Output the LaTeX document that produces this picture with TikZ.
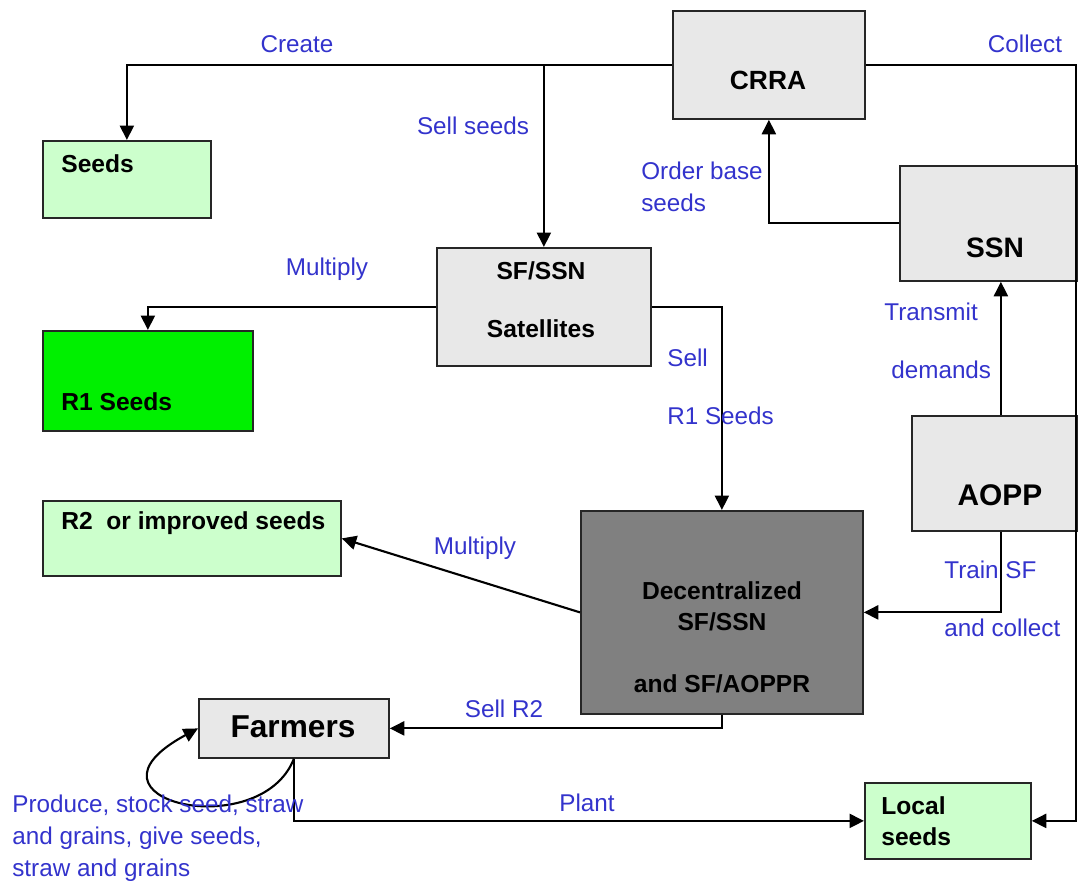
\documentclass[tikz,border=0pt]{standalone}
\usepackage{fontspec}
\setmainfont{Liberation Sans}
\usetikzlibrary{arrows.meta}

\definecolor{lblblue}{RGB}{51,51,204}
\definecolor{boxgray}{RGB}{232,232,232}
\definecolor{seedgreen}{RGB}{204,255,204}
\definecolor{limegreen}{RGB}{0,240,0}
\definecolor{decgray}{RGB}{128,128,128}

\begin{document}
\begin{tikzpicture}[x=0.2mm, y=-0.2mm,
    box/.style={draw=black!85, line width=1pt, inner sep=0, anchor=north west},
    txt/.style={font=\bfseries\fontsize{14}{18}\selectfont, inner sep=0},
    lbl/.style={text=lblblue, font=\fontsize{13.8}{18}\selectfont, inner sep=0, align=left},
    flow/.style={line width=1.2pt, -{Triangle[length=2.9mm,width=2.8mm]}}]
    % Define unit
    \def\pxl{0.2mm}
    \useasboundingbox (0,0) rectangle (1078,880);

    % Boxes
    \node[box, fill=boxgray, minimum width=192*\pxl, minimum height=108*\pxl] (crra) at (672,10) {};
    \node[box, fill=seedgreen, minimum width=168*\pxl, minimum height=77*\pxl] (seeds) at (42,140) {};
    \node[box, fill=boxgray, minimum width=178*\pxl, minimum height=115*\pxl] (ssn) at (899,165) {};
    \node[box, fill=boxgray, minimum width=214*\pxl, minimum height=118*\pxl] (sat) at (436,247) {};
    \node[box, fill=limegreen, minimum width=210*\pxl, minimum height=100*\pxl] (r1) at (42,330) {};
    \node[box, fill=boxgray, minimum width=166*\pxl, minimum height=115*\pxl] (aopp) at (911,415) {};
    \node[box, fill=seedgreen, minimum width=298*\pxl, minimum height=75*\pxl] (r2) at (42,500) {};
    \node[box, fill=decgray, minimum width=282*\pxl, minimum height=203*\pxl] (dec) at (580,510) {};
    \node[box, fill=boxgray, minimum width=190*\pxl, minimum height=59*\pxl] (farm) at (198,698) {};
    \node[box, fill=seedgreen, minimum width=166*\pxl, minimum height=76*\pxl] (local) at (864,782) {};

    % Box texts
    \node[txt, font=\bfseries\fontsize{15}{18}\selectfont] (crratxt) at (768,80) {CRRA};
    \node[txt, anchor=north west] (seedstxt) at (61,154) {Seeds};
    \node[txt, font=\bfseries\fontsize{16}{18}\selectfont] (ssntxt) at (995,248) {SSN};
    \node[txt, anchor=north, align=center] (sattxt) at (541,261) {SF/SSN\\[15pt]Satellites};
    \node[txt, anchor=north west] (r1txt) at (61,392) {R1 Seeds};
    \node[txt, font=\bfseries\fontsize{17}{18}\selectfont] (aopptxt) at (1000,495) {AOPP};
    \node[txt, anchor=north west] (r2txt) at (61,511) {R2\ \ or improved seeds};
    \node[txt, anchor=north, align=center] (dectxt) at (722,581) {Decentralized\\SF/SSN\\[17pt]and SF/AOPPR};
    \node[txt, font=\bfseries\fontsize{18}{18}\selectfont] (farmtxt) at (293,727) {Farmers};
    \node[txt, anchor=north west, align=left] (localtxt) at (881,796) {Local\\seeds};

    % Rim for the collect line
    \coordinate (rim) at (1076,0);

    % Arrows
    \draw[flow] (crra.west) -| (seeds.north);
    \draw[flow] (crra.west -| sat.north) -- (sat.north);
    \draw[flow] (crra.east) -- (crra.east -| rim) |- (local.east);
    \draw[flow] (ssn.west) -| (crra.south);
    \draw[flow] ([xshift=6*\pxl]aopp.north) -- ([xshift=6*\pxl]aopp.north |- ssn.south);
    \draw[flow] ([xshift=6*\pxl]aopp.south) |- (dec.east);
    \draw[flow] (sat.west) -| (r1.north);
    \draw[flow] (sat.east) -| (dec.north);
    \draw[flow] (dec.west) -- (r2.east);
    \draw[flow] (dec.south) |- (farm.east);
    \draw[flow] (farm.south) |- (local.west);
    \draw[flow] (farm.south) .. controls (260,845) and (65,800) .. (farm.west);

    % Labels
    \node[lbl] (create) at (297,44) {Create};
    \node[lbl] (sellseeds) at (473,126) {Sell seeds};
    \node[lbl] (collect) at (1025,44) {Collect};
    \node[lbl, anchor=north west] (order) at (641,162) {Order base\\seeds};
    \node[lbl] (mult1) at (327,269) {Multiply};
    \node[lbl, anchor=north west] (sellr1) at (667,349) {Sell\\[15pt]R1 Seeds};
    \node[lbl, anchor=north west] (transmit) at (884,303) {Transmit\\[15pt]\hspace*{1.4mm}demands};
    \node[lbl] (mult2) at (475,548) {Multiply};
    \node[lbl, anchor=north west] (train) at (944,561) {Train SF\\[15pt]and collect};
    \node[lbl] (sellr2) at (504,709) {Sell R2};
    \node[lbl] (plant) at (587,803) {Plant};
    \node[lbl, anchor=north west] (produce) at (12,795) {Produce, stock seed, straw\\and grains, give seeds,\\straw and grains};
\end{tikzpicture}
\end{document}
